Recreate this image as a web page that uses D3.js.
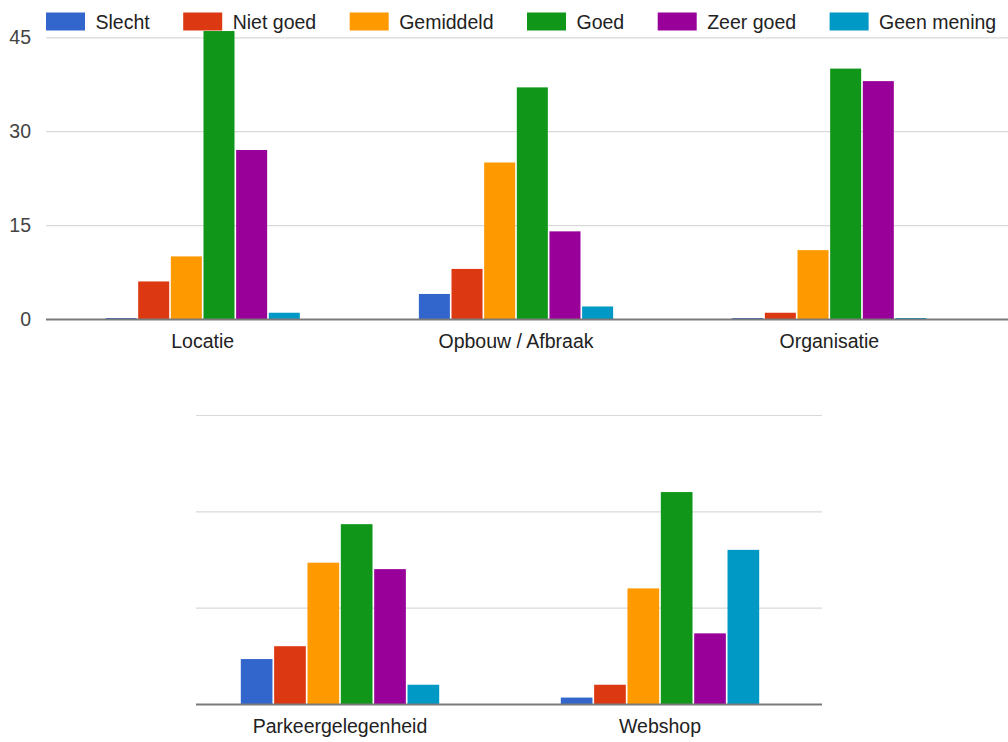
<!DOCTYPE html>
<html>
<head>
<meta charset="utf-8">
<script src="https://cdn.jsdelivr.net/npm/d3@7"></script>
<style>
  body { margin: 0; background: #fff; }
  svg { display: block; font-family: "Liberation Sans", Arial, sans-serif; }
</style>
</head>
<body>
<svg id="chart" width="1008" height="742"></svg>
<script>
// ============================= Datos =========================//
var series = ["Slecht", "Niet goed", "Gemiddeld", "Goed", "Zeer goed", "Geen mening"];
var colors = ["#3366cc", "#dc3912", "#ff9900", "#109618", "#990099", "#0099c6"];

var topCats = ["Locatie", "Opbouw / Afbraak", "Organisatie"];
var topValues = [
  [0, 6, 10, 46, 27, 1],   // Locatie
  [4, 8, 25, 37, 14, 2],   // Opbouw / Afbraak
  [0, 1, 11, 40, 38, 0]    // Organisatie
];

var bottomCats = ["Parkeergelegenheid", "Webshop"];
var bottomValues = [
  [7, 9, 22, 28, 21, 3],   // Parkeergelegenheid
  [1, 3, 18, 33, 11, 24]   // Webshop
];

var yTicks = [0, 15, 30, 45];

// ============================= Arma un panel =========================//
var svg = d3.select("#chart");
var fontSize = 19.5;

function drawPanel(cats, values, opt) {
  var g = svg.append("g");

  var x0 = d3.scaleBand()
    .domain(cats)
    .range([opt.left, opt.right])
    .paddingInner(0.38)
    .paddingOuter(0.19);

  var x1 = d3.scaleBand()
    .domain(series)
    .range([0, x0.bandwidth()])
    .paddingInner(0.05)
    .paddingOuter(0);

  var y = d3.scaleLinear()
    .domain([0, 45])
    .range([opt.bottom, opt.top]);

  // lineas de grilla
  var yAxis = d3.axisLeft(y)
    .tickValues(yTicks)
    .tickSize(-(opt.gridRight - opt.gridLeft))
    .tickPadding(15);
  if (!opt.showTicks) yAxis.tickFormat("");

  var ga = g.append("g")
    .attr("transform", "translate(" + opt.gridLeft + ",0)")
    .call(yAxis);
  ga.select(".domain").remove();
  ga.selectAll(".tick line").attr("stroke", "#d9d9d9").attr("stroke-width", 1.2);
  ga.selectAll(".tick text")
    .attr("fill", "#444")
    .style("font-size", fontSize + "px")
    .style("font-family", "Liberation Sans, Arial, sans-serif");

  // barras
  var groups = g.selectAll("g.grp")
    .data(cats)
    .enter().append("g")
      .attr("class", "grp")
      .attr("transform", function(d) { return "translate(" + x0(d) + ",0)"; });

  groups.selectAll("rect")
    .data(function(d, i) {
      return values[i].map(function(v, j) { return { s: series[j], v: v, c: colors[j] }; });
    })
    .enter().append("rect")
      .attr("x", function(d) { return x1(d.s); })
      .attr("width", x1.bandwidth())
      .attr("y", function(d) { return Math.min(y(d.v), y(0) - 1); })
      .attr("height", function(d) { return Math.max(1, y(0) - y(d.v)); })
      .attr("fill", function(d) { return d.c; });

  // linea base
  g.append("line")
    .attr("x1", opt.gridLeft)
    .attr("x2", opt.gridRight)
    .attr("y1", y(0) + 0.5)
    .attr("y2", y(0) + 0.5)
    .attr("stroke", "#7a7a7a")
    .attr("stroke-width", 2);

  // etiquetas de categorias
  var xa = g.append("g")
    .attr("transform", "translate(0," + y(0) + ")")
    .call(d3.axisBottom(x0).tickSize(0).tickPadding(15));
  xa.select(".domain").remove();
  xa.selectAll(".tick text")
    .attr("fill", "#222")
    .style("font-size", fontSize + "px")
    .style("font-family", "Liberation Sans, Arial, sans-serif");
}

drawPanel(topCats, topValues, {
  left: 46, right: 986, top: 37.3, bottom: 319,
  gridLeft: 46, gridRight: 1008, showTicks: true
});

drawPanel(bottomCats, bottomValues, {
  left: 180, right: 820, top: 415, bottom: 704,
  gridLeft: 196, gridRight: 822, showTicks: false
});

// ============================= Leyenda =========================//
var legend = svg.append("g").attr("class", "legend");
var lx = 46;
series.forEach(function(s, i) {
  var item = legend.append("g").attr("transform", "translate(" + lx + ",0)");
  item.append("rect")
    .attr("x", 0).attr("y", 12.5)
    .attr("width", 39).attr("height", 18)
    .attr("fill", colors[i]);
  var t = item.append("text")
    .attr("x", 49.5).attr("y", 28.5)
    .attr("fill", "#222")
    .style("font-size", fontSize + "px")
    .text(s);
  lx += 49.5 + t.node().getComputedTextLength() + 33.5;
});
</script>
</body>
</html>
